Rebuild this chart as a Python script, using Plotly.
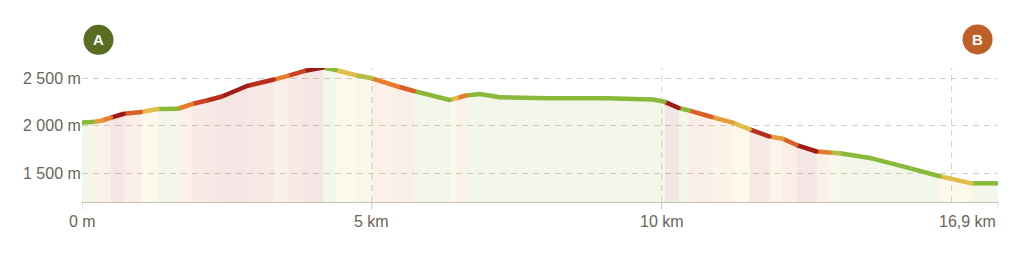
import plotly.graph_objects as go

# ---- data ----
dist_km = [0.000, 0.190, 0.345, 0.500, 0.724, 1.017, 1.310, 1.655, 1.897, 2.155,
           2.414, 2.845, 3.310, 3.552, 3.828, 4.155, 4.379, 4.707, 5.000, 5.448,
           5.724, 6.345, 6.466, 6.621, 6.862, 7.207, 8.069, 9.052, 9.845, 10.052,
           10.293, 10.466, 10.862, 11.224, 11.517, 11.862, 12.086, 12.328, 12.672,
           12.897, 13.069, 13.621, 14.241, 14.793, 15.345, 15.793]
elev_m = [2034, 2039, 2055, 2086, 2126, 2144, 2176, 2179, 2229, 2266,
          2308, 2419, 2487, 2526, 2577, 2614, 2588, 2535, 2500, 2414,
          2366, 2271, 2292, 2319, 2334, 2300, 2289, 2289, 2276, 2252,
          2187, 2162, 2092, 2032, 1962, 1886, 1863, 1796, 1728,
          1717, 1709, 1656, 1557, 1467, 1392, 1392]
# steepness level of the stretch starting at each point (0 = easy ... 4 = very steep),
# estimated from the line colour in the reference
steep_level = [0, 1.5, 2, 4, 2.5, 1, 0, 2, 3, 3.5,
               4, 3.5, 2, 3, 4, 0, 1, 0.5, 2, 2.5,
               0, 1, 2, 0, 0, 0, 0, 0, 0, 4,
               0, 2.5, 1.5, 1, 3.5, 1.5, 2.5, 4, 2,
               0.5, 0, 0, 0, 1, 0, 0]
y_tick_vals = [1500, 2000, 2500]
y_tick_labels = ["1 500 m", "2 000 m", "2 500 m"]
x_grid_vals = [5, 10, 15]
x_tick_vals = [0, 5, 10]
x_tick_labels = ["0 m", "5 km", "10 km"]
end_label = "16,9 km"
start_marker = "A"
end_marker = "B"

# ---- styling ----
Y_MIN, Y_MAX = 1195, 2609
X_MIN, X_MAX = 0, 15.8
TEXT = "#6c6459"
GRID = "#d4cfc8"
AXIS = "#c8c2ba"
FONT = "Liberation Sans, Arial, sans-serif"
level_colors = [(137, 184, 58), (226, 189, 74), (231, 125, 43), (205, 65, 35), (158, 28, 21)]


def level_color(v):
    i = min(int(v), len(level_colors) - 2)
    t = v - i
    c0, c1 = level_colors[i], level_colors[i + 1]
    return tuple(round(a + (b - a) * t) for a, b in zip(c0, c1))


fig = go.Figure()
n = len(dist_km)
seg_colors = [level_color(steep_level[i]) for i in range(n - 1)]

for i in range(n - 1):
    c = seg_colors[i]
    fig.add_trace(go.Scatter(
        x=[dist_km[i], dist_km[i + 1], dist_km[i + 1], dist_km[i], dist_km[i]],
        y=[elev_m[i], elev_m[i + 1], Y_MIN, Y_MIN, elev_m[i]],
        fill="toself", fillcolor="rgba(%d,%d,%d,0.11)" % c,
        line=dict(width=0), mode="lines", hoverinfo="skip", showlegend=False))

for i in range(n - 1):
    c = seg_colors[i]
    fig.add_trace(go.Scatter(
        x=[dist_km[i], dist_km[i + 1]], y=[elev_m[i], elev_m[i + 1]],
        mode="lines", line=dict(color="rgb(%d,%d,%d)" % c, width=4.5),
        hoverinfo="skip", showlegend=False))

vert_colors = ["rgb(%d,%d,%d)" % seg_colors[0]] + ["rgb(%d,%d,%d)" % c for c in seg_colors]
fig.add_trace(go.Scatter(x=dist_km, y=elev_m, mode="markers",
                         marker=dict(size=4.2, color=vert_colors, line=dict(width=0)),
                         hoverinfo="skip", showlegend=False))

shapes = []
for xv in x_grid_vals:
    shapes.append(dict(type="line", xref="x", yref="paper", x0=xv, x1=xv, y0=0, y1=1,
                       line=dict(color=GRID, width=1, dash="6px,5px"), layer="below"))
for xv in x_tick_vals + [X_MAX]:
    shapes.append(dict(type="line", xref="x", yref="paper", x0=xv, x1=xv, y0=0,
                       y1=-0.055, line=dict(color=AXIS, width=1)))

marker_pos = [(0.0180, 1.2100, "#5a6c22", start_marker),
              (0.9777, 1.2130, "#bf5f2a", end_marker)]
annotations = []
for xp, yp, col, t in marker_pos:
    shapes.append(dict(type="circle", xref="paper", yref="paper", xsizemode="pixel",
                       ysizemode="pixel", xanchor=xp, yanchor=yp, x0=-15, x1=15, y0=-15,
                       y1=15, fillcolor=col, line=dict(width=0)))
    annotations.append(dict(xref="paper", yref="paper", x=xp, y=yp, text=t, showarrow=False,
                            font=dict(family=FONT, size=15, color="white", weight="bold"),
                            xanchor="center", yanchor="middle"))

for v, t in zip(y_tick_vals, y_tick_labels):
    annotations.append(dict(xref="paper", yref="y", x=0, y=v, text=t, showarrow=False,
                            xanchor="right", yanchor="middle", xshift=1,
                            font=dict(family=FONT, size=16, color=TEXT)))
for v, t in zip(x_tick_vals, x_tick_labels):
    annotations.append(dict(xref="x", yref="paper", x=v, y=0, text=t, showarrow=False,
                            xanchor="center", yanchor="top", yshift=-9,
                            font=dict(family=FONT, size=16, color=TEXT)))
annotations.append(dict(xref="x", yref="paper", x=X_MAX, y=0, text=end_label,
                        showarrow=False, xanchor="right", yanchor="top", yshift=-9,
                        font=dict(family=FONT, size=16, color=TEXT)))

fig.update_layout(
    width=1024, height=255,
    margin=dict(l=82, r=26, t=68, b=53),
    paper_bgcolor="white", plot_bgcolor="white",
    shapes=shapes, annotations=annotations,
    xaxis=dict(range=[X_MIN, X_MAX], showgrid=False, zeroline=False, showline=True,
               linecolor=AXIS, linewidth=1, showticklabels=False, ticks=""),
    yaxis=dict(range=[Y_MIN, Y_MAX], tickvals=y_tick_vals, showgrid=True, gridcolor=GRID,
               gridwidth=1, griddash="6px,5px", zeroline=False, showline=False,
               showticklabels=False, ticks=""),
)

fig.write_html("out.html")
